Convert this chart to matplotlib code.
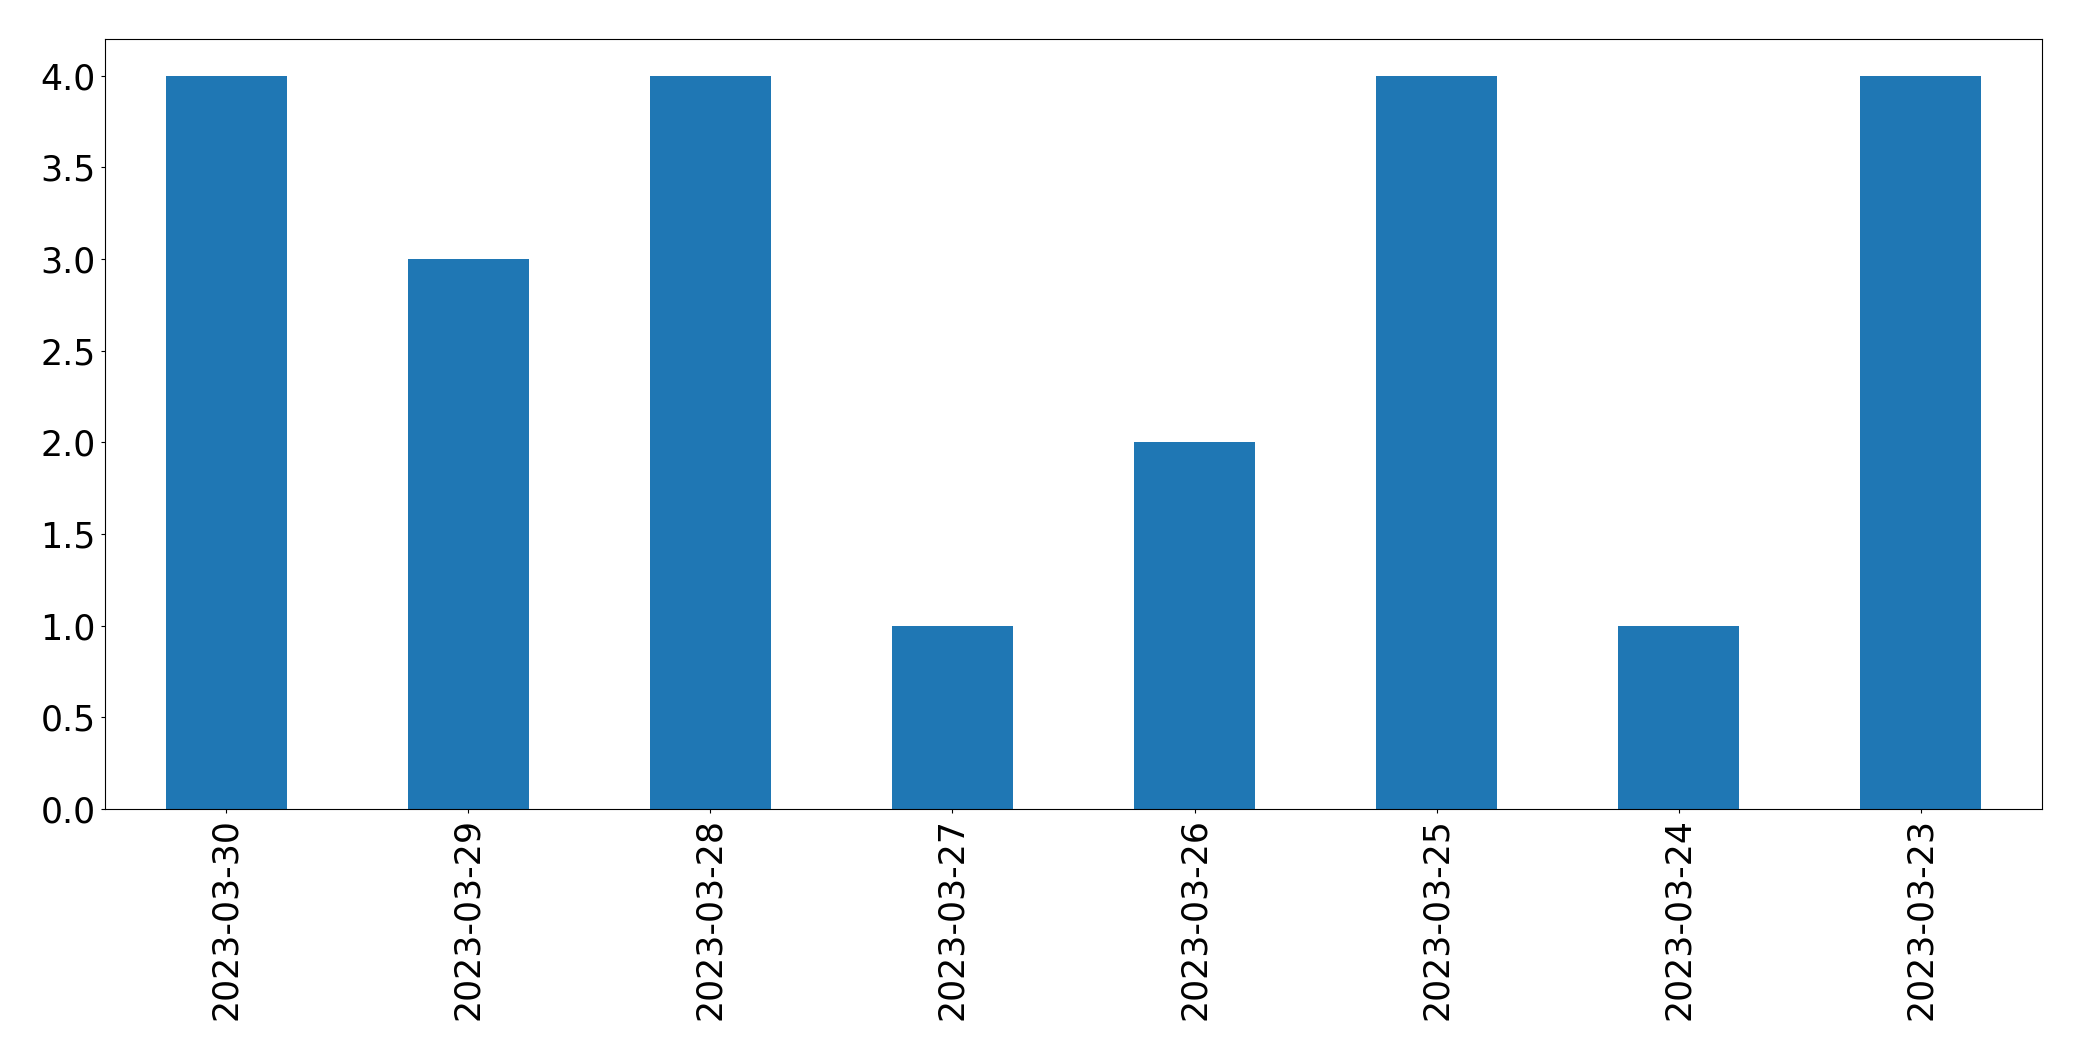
import matplotlib
matplotlib.use("Agg")
import matplotlib.pyplot as plt
import pandas as pd

dates = ["2023-03-30", "2023-03-29", "2023-03-28", "2023-03-27",
         "2023-03-26", "2023-03-25", "2023-03-24", "2023-03-23"]
counts = [4, 3, 4, 1, 2, 4, 1, 4]

plt.rcParams["font.size"] = 25
fig = plt.figure(figsize=(20.82, 10.61), dpi=100)
ax = fig.add_axes([105 / 2082, 1 - 809 / 1061, (2042 - 105) / 2082, (809 - 39) / 1061])
s = pd.Series(counts, index=dates)
s.plot(kind="bar", ax=ax, color="#1f77b4")
ax.tick_params(labelsize=25, length=3.1)
fig.savefig("out.png", dpi=100)
